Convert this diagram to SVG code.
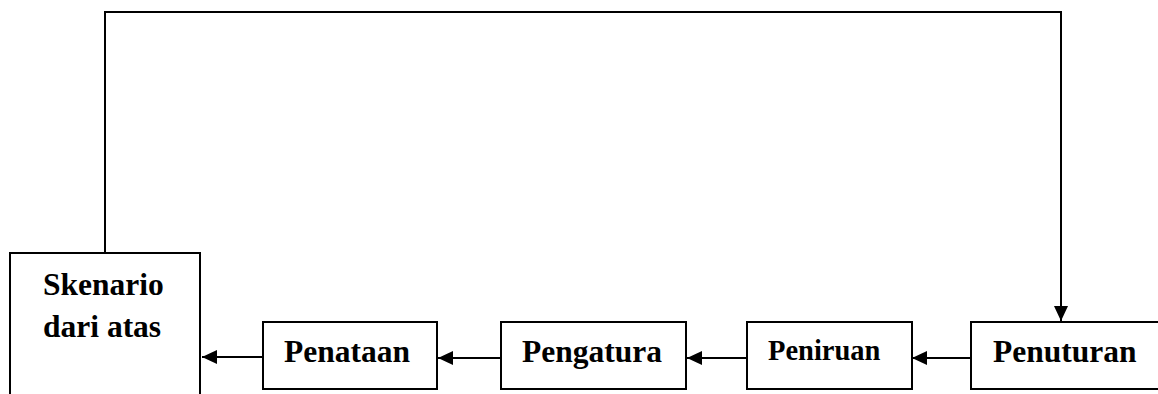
<svg xmlns="http://www.w3.org/2000/svg" width="1158" height="394" viewBox="0 0 1158 394">
<style>
.box{fill:#fff;stroke:#000;stroke-width:2}
.lbl{font-family:"Liberation Serif","Times New Roman",serif;font-weight:bold;font-size:31.5px;fill:#000}
.conn{fill:none;stroke:#000;stroke-width:2}
</style>
<defs>
<marker id="ah" markerUnits="userSpaceOnUse" viewBox="0 0 15 14" refX="15" refY="7" markerWidth="15" markerHeight="14" orient="auto">
<path d="M0,0 L15,7 L0,14 Z" fill="#000"/>
</marker>
</defs>
<rect width="1158" height="394" fill="#fff"/>
<g id="connectors">
<path class="conn" d="M105,253 V12 H1061 V321" marker-end="url(#ah)"/>
<path class="conn" d="M263,357 H202" marker-end="url(#ah)"/>
<path class="conn" d="M501,358 H438" marker-end="url(#ah)"/>
<path class="conn" d="M747,358 H687" marker-end="url(#ah)"/>
<path class="conn" d="M971,358 H912" marker-end="url(#ah)"/>
</g>
<g id="skenario">
<rect class="box" x="10" y="253" width="190" height="160"/>
<text class="lbl" x="43" y="295">Skenario</text>
<text class="lbl" x="43" y="337">dari atas</text>
</g>
<g id="penataan">
<rect class="box" x="263" y="322" width="174" height="67"/>
<text class="lbl" x="284" y="362">Penataan</text>
</g>
<g id="pengatura">
<rect class="box" x="501" y="322" width="185" height="67"/>
<text class="lbl" x="522" y="362">Pengatura</text>
</g>
<g id="peniruan">
<rect class="box" x="747" y="322" width="165" height="67"/>
<text class="lbl" x="768" y="360" style="font-size:28.5px">Peniruan</text>
</g>
<g id="penuturan">
<rect class="box" x="971" y="322" width="200" height="67"/>
<text class="lbl" x="993" y="362">Penuturan</text>
</g>
</svg>
